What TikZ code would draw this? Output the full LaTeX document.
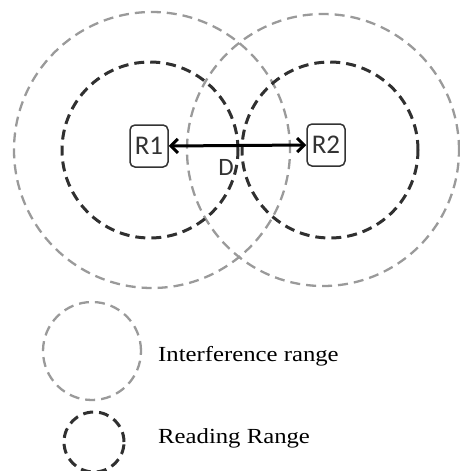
\documentclass[tikz,border=0pt]{standalone}
\usepackage{fontspec}
\setmainfont{Liberation Serif}
\newfontfamily\legendfont[FakeStretch=1.15]{Liberation Serif}
\newfontfamily\labelfont{Carlito}
\usetikzlibrary{arrows.meta}
\definecolor{lightdash}{HTML}{9A9A9A}
\definecolor{darkdash}{HTML}{303030}
\tikzset{
  interf/.style={draw=lightdash, line width=2.3pt, dash pattern=on 10pt off 6pt},
  readr/.style={draw=darkdash, line width=3pt, dash pattern=on 10pt off 6pt},
  reader/.style={draw=black!80, line width=1.5pt, rounded corners=5pt, minimum width=38pt, minimum height=42pt, inner sep=0pt, font=\labelfont\fontsize{27}{30}\selectfont, text=black!80},
  legendtext/.style={anchor=west, inner sep=0pt, font=\legendfont\fontsize{21.5}{24}\selectfont},
}
\begin{document}
\begin{tikzpicture}[x=1pt,y=-1pt]
\useasboundingbox (0,0) rectangle (460,471);
% interference ranges
\draw[interf] (152,150) circle (138pt);
\draw[interf] (323,150) circle (136pt);
% reading ranges
\draw[readr] (150,150) circle (88pt);
\draw[readr] (330,150) circle (88pt);
% readers
\node[reader] (r1) at (149,146) {R1};
\node[reader] (r2) at (326,145) {R2};
\draw[line width=3pt, {Straight Barb[length=7pt,width=14pt]}-{Straight Barb[length=7pt,width=14pt]}] (r1.east) -- (r2.west);
\node[font=\labelfont\fontsize{25}{28}\selectfont, text=black!80] (d) at (226,167) {D};
% legend
\draw[interf] (92,351) circle (49pt);
\draw[readr] (94,442) circle (30pt);
\node[legendtext] (li) at (158,356) {Interference range};
\node[legendtext] (lr) at (158,438) {Reading Range};
\end{tikzpicture}
\end{document}
